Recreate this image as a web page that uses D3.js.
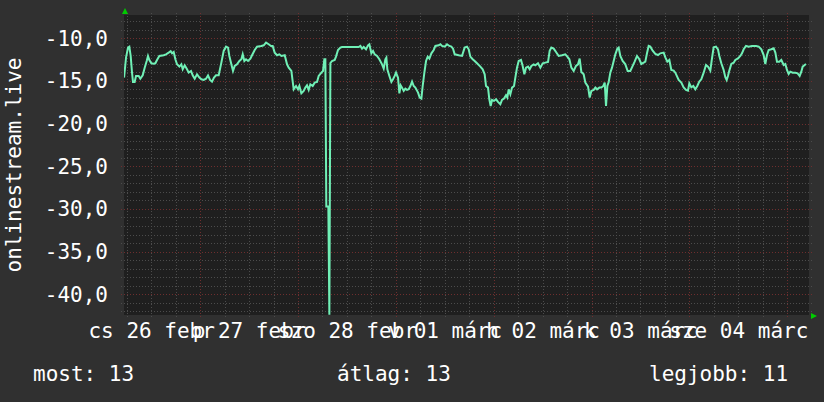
<!DOCTYPE html>
<html>
<head>
<meta charset="utf-8">
<script src="https://cdn.jsdelivr.net/npm/d3@7"></script>
<style>
  body { margin: 0; background: #303030; }
  svg { display: block; }
  text { font-family: "DejaVu Sans Mono", monospace; fill: #ffffff; }
</style>
</head>
<body>
<svg width="824" height="402"></svg>
<script>
// hours since 2015-02-26 00:00
var hours = [5.35,5.83,6.32,6.64,6.97,7.30,7.54,7.95,8.28,8.93,9.34,9.92,10.41,10.90,11.22,11.55,12.04,12.61,13.02,13.43,14.00,15.07,15.64,16.29,16.78,17.11,17.52,17.93,18.34,18.91,19.40,19.73,20.22,20.79,21.20,21.77,22.18,22.67,23.24,23.82,24.31,24.88,25.45,25.94,26.43,26.92,27.41,27.90,28.56,29.21,29.78,30.36,30.85,31.17,31.66,32.07,32.48,33.05,33.63,34.12,34.45,34.85,35.26,35.75,36.33,36.73,37.39,37.96,39.02,39.60,40.17,40.82,41.39,41.80,42.29,42.87,43.44,43.93,44.75,45.32,45.73,46.38,
  46.95,47.52,48.01,48.34,48.83,49.40,49.81,50.22,50.63,51.04,51.61,52.10,52.67,53.08,53.74,54.14,54.47,54.72,54.95,55.45,55.70,55.95,56.35,57.01,57.33,57.82,58.40,58.80,62.89,63.30,63.71,64.12,64.69,65.18,65.51,66.00,66.41,66.82,67.39,67.96,68.62,69.03,69.43,69.68,69.92,70.42,70.91,71.31,71.72,72.05,72.54,72.87,73.19,73.52,73.93,74.34,74.75,75.16,75.57,75.98,76.39,76.79,77.45,77.86,78.27,78.59,79.00,79.41,79.82,80.23,80.72,81.29,81.70,82.52,82.93,83.33,83.99,84.56,85.13,85.62,86.03,86.44,87.42,88.23,
  88.88,89.46,89.87,90.27,90.85,91.34,91.91,92.73,93.30,93.79,94.12,94.61,94.93,95.26,95.59,96.08,96.57,97.06,97.63,98.04,98.53,99.02,99.35,99.68,100.09,100.50,100.99,101.31,101.72,102.13,102.70,103.11,103.52,103.93,104.42,104.83,105.24,105.81,106.22,106.87,107.45,108.02,108.67,109.33,109.73,110.14,110.72,111.29,111.94,112.76,113.57,114.06,114.56,115.05,115.62,116.19,116.68,117.09,117.50,118.07,118.48,119.14,119.55,119.95,120.53,120.94,121.35,121.92,122.41,122.90,123.23,123.55,123.88,124.21,124.61,125.02,125.43,125.84,126.33,126.65,127.06,127.63,128.29,128.86,129.51,130.09,
  130.57,131.15,131.72,132.21,132.78,133.19,133.60,134.01,134.42,134.99,135.64,136.30,136.87,137.69,138.10,138.59,139.08,139.57,140.14,140.55,141.37,142.02,142.59,143.16,143.65,143.98,144.47,144.96,145.45,145.94,146.43,146.92,147.50,148.07,148.56,149.13,149.54,149.95,150.52,151.01,151.34,151.83,152.40,152.81,153.14,153.46,153.79,154.28,154.85,155.26,155.92,156.49,156.90,157.31,157.88,158.53,159.35,160.33,160.99,161.64,162.21,162.62,163.03,163.44,164.09,164.67,165.08,165.48,166.05,166.54,167.12,167.53,167.93,168.34,168.75,169.32,169.98,170.55,171.04,171.45,171.78,172.27,172.60];
var values = [-14.6,-12.27,-11.09,-10.98,-12.07,-14.02,-15.12,-15.12,-14.41,-14.41,-14.73,-14.34,-13.44,-12.66,-12.07,-12.54,-12.93,-12.97,-12.93,-12.54,-12.07,-11.99,-11.88,-11.68,-11.52,-11.76,-11.60,-12.46,-13.05,-13.32,-13.05,-13.63,-13.16,-13.63,-14.02,-13.83,-14.34,-14.73,-14.22,-14.61,-14.80,-14.88,-14.73,-14.34,-14.88,-15.08,-14.61,-14.34,-14.34,-12.85,-11.48,-10.98,-11.09,-12.07,-13.05,-13.83,-13.24,-13.05,-12.66,-12.46,-11.88,-12.66,-12.46,-12.66,-12.38,-11.99,-11.37,-10.98,-10.90,-10.82,-10.51,-10.70,-10.90,-10.90,-11.68,-11.99,-11.88,-12.07,-11.99,-13.05,-13.44,-13.83,
  -15.98,-15.59,-15.98,-15.59,-16.45,-16.17,-15.78,-15.51,-16.05,-15.39,-15.59,-15.20,-15.12,-14.41,-14.02,-13.83,-12.46,-12.46,-29.7,-29.7,-42.4,-12.9,-12.66,-12.54,-12.15,-11.37,-11.09,-11.02,-11.02,-10.90,-11.21,-11.02,-11.29,-10.82,-10.70,-11.76,-11.48,-11.88,-12.07,-12.46,-13.05,-13.55,-12.46,-12.27,-13.63,-14.41,-15.12,-14.80,-14.41,-14.02,-14.61,-16.45,-15.51,-15.78,-16.17,-15.90,-16.05,-15.98,-15.59,-15.08,-15.59,-15.78,-16.37,-16.95,-17.07,-15.59,-14.02,-12.66,-12.15,-12.38,-11.76,-11.37,-10.90,-10.82,-10.70,-10.90,-10.98,-10.70,-10.90,-10.98,-11.21,-11.88,-11.99,-12.07,
  -11.09,-10.98,-11.29,-12.15,-12.46,-12.66,-12.93,-13.32,-13.63,-14.22,-15.59,-15.78,-17.15,-17.93,-17.23,-17.34,-17.15,-17.46,-17.73,-17.23,-17.07,-16.68,-16.95,-15.98,-16.56,-15.78,-15.59,-14.61,-13.44,-12.66,-12.54,-13.24,-14.22,-13.44,-13.32,-13.63,-13.24,-13.05,-13.16,-12.93,-13.44,-12.93,-12.85,-12.77,-11.48,-11.09,-11.21,-11.60,-12.07,-11.99,-11.88,-12.15,-12.46,-13.44,-13.83,-13.24,-13.05,-12.38,-13.95,-14.22,-15.20,-15.66,-16.95,-16.17,-16.05,-15.78,-15.98,-15.78,-15.78,-15.59,-15.20,-17.93,-15.59,-15.12,-14.02,-13.44,-12.66,-11.88,-11.21,-11.09,-12.07,-12.66,-13.05,-13.83,-13.83,-13.24,
  -12.74,-12.07,-12.46,-13.01,-12.86,-12.74,-11.76,-10.90,-10.98,-11.45,-11.84,-11.96,-11.76,-11.68,-12.23,-12.74,-12.54,-13.71,-13.79,-14.03,-14.89,-15.20,-15.75,-16.06,-16.14,-15.28,-15.75,-15.59,-15.98,-15.59,-15.08,-14.81,-14.03,-13.13,-13.32,-13.79,-12.35,-11.06,-10.98,-11.29,-12.07,-12.93,-13.71,-14.57,-14.89,-14.42,-13.79,-13.01,-12.86,-12.54,-12.35,-12.07,-11.76,-11.29,-10.90,-10.98,-10.90,-10.90,-10.98,-11.29,-11.96,-13.01,-11.96,-11.37,-11.29,-11.18,-11.68,-12.74,-12.74,-12.54,-13.13,-13.01,-13.71,-14.18,-13.91,-14.03,-14.03,-14.11,-14.42,-13.91,-13.32,-13.13,-13.01];

var yTicks = [-10, -15, -20, -25, -30, -35, -40]
var dayLabels = ["cs 26 febr", "p 27 febr", "szo 28 febr", "v 01 márc", "h 02 márc", "k 03 márc", "sze 04 márc"]
var yTitle = "onlinestream.live"
var footer = [["most:", 13], ["átlag:", 13], ["legjobb:", 11]]

var base = Date.UTC(2015, 1, 26)
var H = 3600 * 1000
function t(h) { return new Date(base + h * H) }

var svg = d3.select("svg")
var pLeft = 124, pRight = 809, pTop = 15, pBottom = 315
var fs = 21

var x = d3.scaleUtc().domain([t(5.3333), t(173.3333)]).range([pLeft, pRight])
var y = d3.scaleLinear().domain([-42.43, -7.27]).range([pBottom, pTop])

svg.append("rect").attr("x", 0).attr("y", 0).attr("width", 824).attr("height", 402).attr("fill", "#303030")
svg.append("rect").attr("x", pLeft).attr("y", pTop).attr("width", pRight - pLeft).attr("height", pBottom - pTop).attr("fill", "#1f1f1f")

var grid = svg.append("g").attr("shape-rendering", "crispEdges")

// horizontal grid, every unit
d3.range(-42, -7).forEach(function(v) {
  var major = v % 5 === 0
  var yy = Math.round(y(v)) + 0.5
  grid.append("line").attr("x1", pLeft - 3).attr("x2", pRight + 3).attr("y1", yy).attr("y2", yy)
    .attr("stroke", major ? "#6e2e2e" : "#4c4c4c").attr("stroke-dasharray", "1,2")
})
// vertical grid, every 6 hours, red at midnight
x.ticks(d3.utcHour.every(6)).forEach(function(d) {
  var major = d.getUTCHours() === 0
  var xx = Math.round(x(d)) + 0.5
  grid.append("line").attr("x1", xx).attr("x2", xx).attr("y1", pTop - 2).attr("y2", pBottom + 3)
    .attr("stroke", major ? "#6e2e2e" : "#4c4c4c").attr("stroke-dasharray", "1,2")
})

svg.append("clipPath").attr("id", "clip").append("rect")
  .attr("x", pLeft).attr("y", pTop).attr("width", pRight - pLeft).attr("height", pBottom - pTop + 1)

var line = d3.line().x(function(d) { return x(t(d[0])) }).y(function(d) { return y(d[1]) })
svg.append("path").datum(d3.zip(hours, values))
  .attr("clip-path", "url(#clip)")
  .attr("d", line).attr("fill", "none").attr("stroke", "#70f0b6").attr("stroke-width", 2)

// axis arrows
svg.append("path").attr("d", "M122,14 L125,8 L128,14 Z").attr("fill", "#00cc00")
svg.append("path").attr("d", "M811,313 L817,316 L811,319 Z").attr("fill", "#00cc00")

// y labels
var yAxis = svg.append("g").attr("transform", "translate(" + pLeft + ",0)")
  .call(d3.axisLeft(y).tickValues(yTicks).tickSize(0).tickPadding(16)
    .tickFormat(function(d) { return d3.format(".1f")(d).replace("−", "-").replace(".", ",") }))
yAxis.select(".domain").remove()
yAxis.selectAll("text").attr("font-size", fs).attr("font-family", "DejaVu Sans Mono").attr("fill", "#fff")

// day labels centred at noon
var noon = dayLabels.map(function(l, i) { return t(12 + 24 * i) })
var xAxis = svg.append("g").attr("transform", "translate(0," + pBottom + ")")
  .call(d3.axisBottom(x).tickValues(noon).tickSize(0).tickPadding(8)
    .tickFormat(function(d, i) { return dayLabels[i] }))
xAxis.select(".domain").remove()
xAxis.selectAll("text").attr("font-size", fs).attr("font-family", "DejaVu Sans Mono").attr("fill", "#fff")

svg.append("text").attr("transform", "translate(21,165) rotate(-90)")
  .attr("text-anchor", "middle").attr("font-size", fs).text(yTitle)

var fx = [33, 337, 649]
footer.forEach(function(f, i) {
  svg.append("text").attr("x", fx[i]).attr("y", 381).attr("font-size", fs).text(f[0] + " " + f[1])
})
</script>
</body>
</html>
